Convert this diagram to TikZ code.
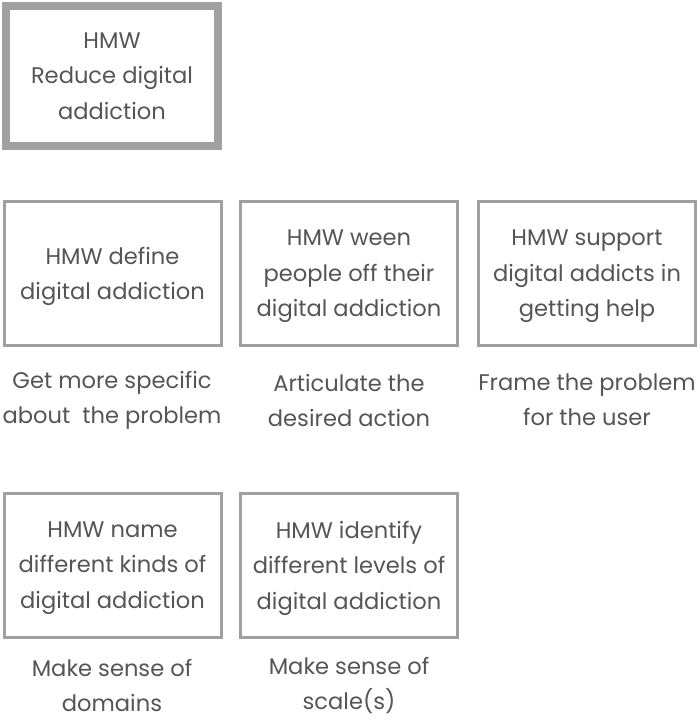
\documentclass[tikz,border=0pt]{standalone}
\usepackage{fontspec}
\setmainfont{Poppins}
\usetikzlibrary{positioning}
\definecolor{boxgray}{HTML}{A0A0A0}
\definecolor{textgray}{HTML}{555555}

\begin{document}
\begin{tikzpicture}[x=1pt, y=-1pt]
        \tikzset{
            goal/.style={draw=boxgray, line width=8pt, rectangle, minimum width=212pt, minimum height=140pt, align=center, text=textgray, font=\fontsize{22.6}{35.5}\selectfont, text depth=-5pt},
            hmw/.style={draw=boxgray, line width=3pt, rectangle, minimum width=217pt, minimum height=144pt, align=center, text=textgray, font=\fontsize{22.6}{35.5}\selectfont, text depth=-8pt},
            aim/.style={align=center, text=textgray, inner sep=0pt, font=\fontsize{22.6}{35}\selectfont}
        }
        \useasboundingbox (0,0) rectangle (699,720);

        % Main question
        \node [goal] (reduce) at (112, 76) {HMW\\Reduce digital\\addiction};

        % First row of questions
        \node [hmw] (define) at (112.5, 273.5) {HMW define\\digital addiction};
        \node [hmw] (ween) at (349, 273.5) {HMW ween\\people off their\\digital addiction};
        \node [hmw] (support) at (587, 273.5) {HMW support\\digital addicts in\\getting help};

        % Second row of questions
        \node [hmw] (kinds) at (112.5, 565) {HMW name\\different kinds of\\digital addiction};
        \node [hmw] (levels) at (349, 565) {HMW identify\\different levels of\\digital addiction};

        % Aims under the boxes
        \node [aim] (specific) at (112, 400) {Get more specific\\about\ \ the problem};
        \node [aim] (action) at (349, 400) {Articulate the\\desired action};
        \node [aim] (user) at (587, 400) {Frame the problem\\for the user};
        \node [aim] (domains) at (112, 685) {Make sense of\\domains};
        \node [aim] (scale) at (349, 685) {Make sense of\\scale(s)};

    \end{tikzpicture}
\end{document}
